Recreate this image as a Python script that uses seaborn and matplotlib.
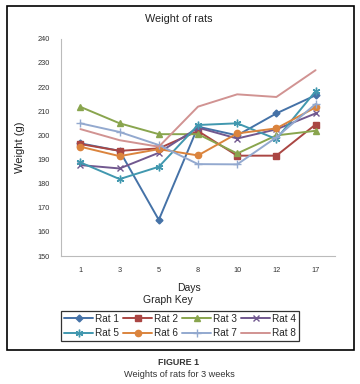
import matplotlib
matplotlib.use("Agg")
import matplotlib.pyplot as plt
import seaborn as sns
import pandas as pd
from matplotlib.patches import Rectangle
from matplotlib.lines import Line2D

days = ["1", "3", "5", "8", "10", "12", "17"]
rat1 = [196.7, 193.6, 165.0, 203.6, 200.0, 209.1, 216.6]
rat2 = [196.4, 193.6, 194.6, 201.8, 191.6, 191.6, 204.5]
rat3 = [211.8, 205.0, 200.5, 200.5, 192.5, 200.0, 201.9]
rat4 = [187.7, 186.3, 192.8, 203.2, 198.7, 202.5, 209.1]
rat5 = [188.8, 181.9, 187.0, 204.3, 205.0, 198.5, 218.3]
rat6 = [195.3, 191.4, 194.3, 191.7, 200.8, 202.9, 211.6]
rat7 = [205.0, 201.4, 196.0, 188.1, 188.0, 199.2, 213.0]
rat8 = [202.6, 198.0, 195.3, 211.9, 217.0, 215.9, 227.0]
names = ["Rat 1", "Rat 2", "Rat 3", "Rat 4", "Rat 5", "Rat 6", "Rat 7", "Rat 8"]
series = [rat1, rat2, rat3, rat4, rat5, rat6, rat7, rat8]

colors = ["#4572A7", "#AA4643", "#89A54E", "#71588F", "#4198AF", "#DB843D", "#93A9CF", "#D19392"]
markers = ["D", "s", "^", "x", (6, 2, 0), "o", "+", ""]
msizes = [3.5, 4.5, 4.5, 4.5, 5.5, 4.5, 5.5, 0]

sns.set_theme(style="white")
plt.rcParams['font.family'] = ['Liberation Sans', 'DejaVu Sans']

fig = plt.figure(figsize=(3.6, 3.84), dpi=100)
ax = fig.add_axes([0.169, 0.333, 0.762, 0.566])

rows = []
for n, s in zip(names, series):
    for i, (d, v) in enumerate(zip(days, s)):
        rows.append({"rat": n, "idx": i, "day": d, "w": v})
df = pd.DataFrame(rows)

lw = 1.4
for n, c, m, ms in zip(names, colors, markers, msizes):
    sub = df[df["rat"] == n]
    sns.lineplot(data=sub, x="idx", y="w", ax=ax, color=c, linewidth=lw,
                 marker=m if m != "" else None, markersize=ms,
                 markeredgecolor=c, markeredgewidth=1.0, legend=False)

handles = []
for n, c, m, ms in zip(names, colors, markers, msizes):
    handles.append(Line2D([0], [0], color=c, lw=lw, marker=m if m != "" else None,
                          markersize=ms, markeredgecolor=c, markeredgewidth=1.0, label=n))
order = [0, 4, 1, 5, 2, 6, 3, 7]
handles = [handles[i] for i in order]

ax.set_xlim(-0.5, 6.5)
ax.set_ylim(150, 240)
ax.set_xticks(range(len(days)))
ax.set_xticklabels(days)
ax.set_yticks(range(150, 241, 10))
ax.tick_params(axis="both", labelsize=5.3, length=0, pad=8, colors="#333333")
for sp in ["top", "right"]:
    ax.spines[sp].set_visible(False)
for sp in ["left", "bottom"]:
    ax.spines[sp].set_color("#BBBBBB")
    ax.spines[sp].set_linewidth(0.8)
ax.set_xlabel("")
ax.set_ylabel("Weight (g)", fontsize=8, color="#222222", labelpad=9)

fig.text(0.497, 0.951, "Weight of rats", ha="center", va="center", fontsize=7.8, color="#222222")
fig.text(0.525, 0.25, "Days", ha="center", va="center", fontsize=7.5, color="#222222")
fig.text(0.467, 0.219, "Graph Key", ha="center", va="center", fontsize=7.5, color="#222222")

leg = fig.legend(handles=handles, ncol=4, loc="center", bbox_to_anchor=(0.5, 0.151),
                 fontsize=7.2, frameon=True, handlelength=2.9, handletextpad=0.15,
                 columnspacing=0.45, borderpad=0.3, labelspacing=0.45, fancybox=False)
leg.get_frame().set_edgecolor("black")
leg.get_frame().set_linewidth(0.9)

fig.patches.append(Rectangle((0.019, 0.089), 0.964, 0.896, transform=fig.transFigure,
                             fill=False, edgecolor="black", linewidth=1.2))

fig.text(0.497, 0.057, "FIGURE 1", ha="center", va="center", fontsize=6.4,
         fontweight="bold", color="#333333")
fig.text(0.497, 0.026, "Weights of rats for 3 weeks", ha="center", va="center",
         fontsize=6.6, color="#333333")

fig.savefig("out.png", dpi=100)
